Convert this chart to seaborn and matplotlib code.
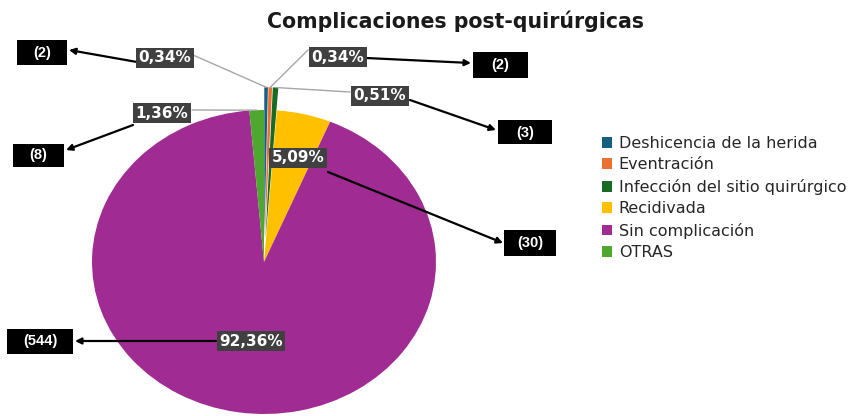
import matplotlib
matplotlib.use("Agg")
import matplotlib.pyplot as plt
from matplotlib.patches import Rectangle
import numpy as np
import seaborn as sns

# ---- data ----
categories = ["Deshicencia de la herida", "Eventración", "Infección del sitio quirúrgico",
              "Recidivada", "Sin complicación", "OTRAS"]
counts = [2, 2, 3, 30, 544, 8]
colors = ["#156082", "#E97132", "#196B24", "#FFC000", "#A02B93", "#4EA72E"]
title = "Complicaciones post-quirúrgicas"

sns.set_theme(style="white")
plt.rcParams['font.family'] = ['DejaVu Sans']

W, H = 852, 416
fig = plt.figure(figsize=(W / 100, H / 100), dpi=100)
fig.patch.set_facecolor("white")

# pie geometry (pixels)
cx, cy, rx, ry = 264, 262, 172, 152
ax = fig.add_axes([(cx - rx) / W, (H - (cy + ry)) / H, 2 * rx / W, 2 * ry / H])
explode = [0.15, 0.15, 0.15, 0, 0, 0]
wedges, _ = ax.pie(counts, colors=colors, startangle=90, counterclock=False,
                   explode=explode, radius=1, wedgeprops=dict(linewidth=0))
ax.set_aspect('auto')
ax.set_xlim(-1, 1)
ax.set_ylim(-1, 1)
ax.axis('off')
for w in wedges:
    w.set_clip_on(False)

# overlay in pixel coordinates
ax2 = fig.add_axes([0, 0, 1, 1], zorder=5)
ax2.set_xlim(0, W)
ax2.set_ylim(H, 0)
ax2.axis('off')

def to_px(X, Y):
    return cx + rx * X, cy - ry * Y

total = sum(counts)
pct_labels = [f"{c / total * 100:.2f}%".replace('.', ',') for c in counts]
count_labels = [f"({c})" for c in counts]

# layout
pct_pos = [(165, 58), (338, 57), (380, 96), (298, 158), (251, 341), (162, 113)]
leader_from = [(193, 55), (308, 50), (350, 92), None, None, (192, 110)]
count_pos = [(42, 52), (500, 65), (525, 132), (530, 243), (40, 341), (38, 155)]
count_w = [50, 55, 54, 52, 66, 51]
count_h = [25, 26, 24, 26, 25, 23]
arrow_from = [(137, 62), (366, 58), (410, 100), (328, 172), (216, 341), (133, 125)]
arrow_to = [(69, 50), (471, 63), (496, 130), (503, 243), (75, 341), (66, 150)]

# leader lines to wedge tips
for i, w in enumerate(wedges):
    if leader_from[i] is None:
        continue
    th = np.deg2rad((w.theta1 + w.theta2) / 2)
    X = w.center[0] + w.r * np.cos(th)
    Y = w.center[1] + w.r * np.sin(th)
    px, py = to_px(X, Y)
    ax2.plot([leader_from[i][0], px], [leader_from[i][1], py], color="#A6A6A6", lw=1, zorder=2)

# arrows
for i in range(len(counts)):
    ax2.annotate("", xy=arrow_to[i], xytext=arrow_from[i],
                 arrowprops=dict(arrowstyle='-|>', color='black', lw=1.6,
                                 mutation_scale=9, shrinkA=0, shrinkB=0), zorder=3)

# percentage labels
for i in range(len(counts)):
    ax2.text(pct_pos[i][0], pct_pos[i][1], pct_labels[i], ha='center', va='center',
             color='white', fontsize=11, fontweight='bold', zorder=6,
             bbox=dict(boxstyle='square,pad=0.15', fc='#404040', ec='none'))

# count boxes
for i in range(len(counts)):
    x, y = count_pos[i]
    ax2.add_patch(Rectangle((x - count_w[i] / 2, y - count_h[i] / 2), count_w[i], count_h[i],
                            fc='black', ec='none', zorder=6))
    ax2.text(x, y + 0.5, count_labels[i], ha='center', va='center', color='white',
             fontsize=10.5, fontweight='bold', zorder=7, family=['Liberation Sans'])

# title
fig.text(456 / W, 1 - 21 / H, title, ha='center', va='center', fontsize=14.8,
         fontweight='bold', color='#1a1a1a')

# legend
fig.legend(wedges, categories, loc='center left', bbox_to_anchor=(602 / W, 1 - 198 / H),
           frameon=False, fontsize=11.5, handlelength=0.65, handleheight=0.65,
           handletextpad=0.4, labelspacing=0.40, borderpad=0, borderaxespad=0)

fig.savefig("out.png", dpi=100)
